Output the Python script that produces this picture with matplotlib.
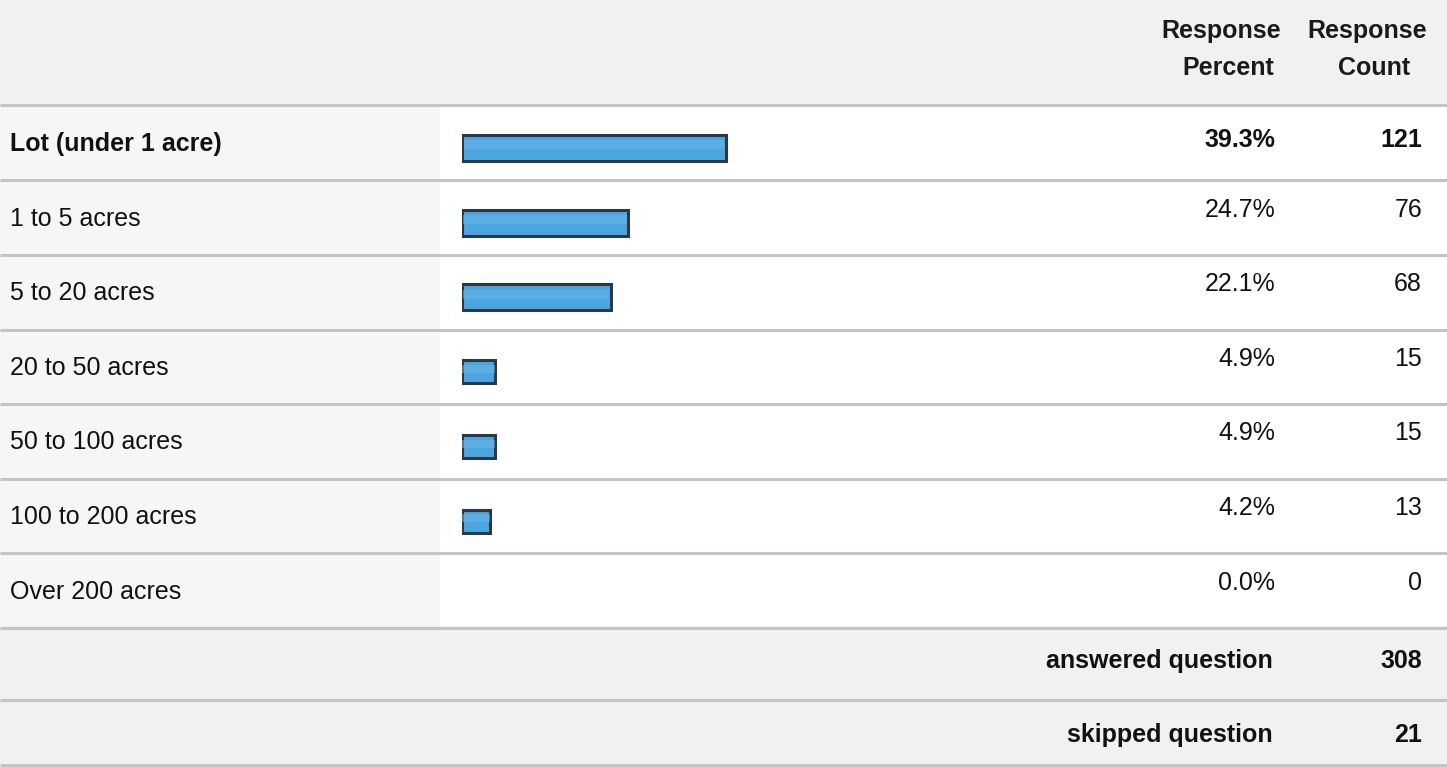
import matplotlib
matplotlib.use("Agg")
import matplotlib.pyplot as plt
from matplotlib.patches import Rectangle

plt.rcParams['font.family'] = ['Liberation Sans', 'DejaVu Sans']

categories = ["Lot (under 1 acre)", "1 to 5 acres", "5 to 20 acres", "20 to 50 acres",
              "50 to 100 acres", "100 to 200 acres", "Over 200 acres"]
percents = [39.3, 24.7, 22.1, 4.9, 4.9, 4.2, 0.0]
counts = [121, 76, 68, 15, 15, 13, 0]
header_top = ["Response", "Response"]
header_bottom = ["Percent", "Count"]
summary_labels = ["answered question", "skipped question"]
summary_values = [308, 21]

W, H = 1447, 767
FS = 18
fig = plt.figure(figsize=(W / 100, H / 100), dpi=100)
fig.patch.set_facecolor("#f1f1f1")

ax = fig.add_axes([0, 0, 1, 1])
ax.set_xlim(0, W)
ax.set_ylim(H, 0)
ax.axis("off")

# lighter table body area
ax.add_patch(Rectangle((440, 106), W - 440, 520, facecolor="white", edgecolor="none", zorder=0))
ax.add_patch(Rectangle((0, 106), 440, 520, facecolor="#f6f6f6", edgecolor="none", zorder=0))

row_y0, row_step = 143, 74.6
rows_y = [row_y0 + i * row_step for i in range(len(categories))]

# separator lines
sep_ys = [105] + [row_y0 + (i + 0.5) * row_step for i in range(len(categories))] + [700, 765]
for y in sep_ys:
    ax.plot([0, W], [y, y], color="#c4c4c4", lw=2.2, zorder=1, solid_capstyle="butt")

# header
top_x = [1221, 1367]
bot_x = [1228, 1374]
for xt, xb, t, b in zip(top_x, bot_x, header_top, header_bottom):
    ax.text(xt, 31, t, ha="center", va="center", fontsize=FS, fontweight="bold", color="#1a1a1a")
    ax.text(xb, 68, b, ha="center", va="center", fontsize=FS, fontweight="bold", color="#1a1a1a")

for i, (cat, p, c) in enumerate(zip(categories, percents, counts)):
    y = rows_y[i]
    fw = "bold" if i == 0 else "normal"
    ax.text(10, y + 1, cat, ha="left", va="center", fontsize=FS, fontweight=fw, color="#111111")
    dy = -3 if i == 0 else -8
    ax.text(1275, y + dy, f"{p:.1f}%", ha="right", va="center", fontsize=FS, fontweight=fw, color="#111111")
    ax.text(1422, y + dy, f"{c}", ha="right", va="center", fontsize=FS, fontweight=fw, color="#111111")

for j, (lab, v) in enumerate(zip(summary_labels, summary_values)):
    y = 661 + j * 74
    ax.text(1273, y, lab, ha="right", va="center", fontsize=FS, fontweight="bold", color="#111111")
    ax.text(1422, y, f"{v}", ha="right", va="center", fontsize=FS, fontweight="bold", color="#111111")

# bars axes: x in percent, y in pixel rows
bx = fig.add_axes([462 / W, 0, 672 / W, 1])
bx.set_xlim(0, 100)
bx.set_ylim(H, 0)
bx.axis("off")
bx.patch.set_alpha(0)
heights = [26 if p > 10 else 23 for p in percents]
for y, p, h in zip(rows_y, percents, heights):
    if p <= 0:
        continue
    bx.barh(y + 5, p, height=h, left=0, color="#4ba5de", edgecolor="#2a3848", linewidth=2.2, zorder=3)
    bx.barh(y + 5 - h * 0.12, p * 0.985, height=h * 0.35, left=p * 0.0075, color="#6fb9e8",
            edgecolor="none", zorder=4, alpha=0.5)

fig.savefig("out.png", dpi=100, facecolor=fig.get_facecolor())
